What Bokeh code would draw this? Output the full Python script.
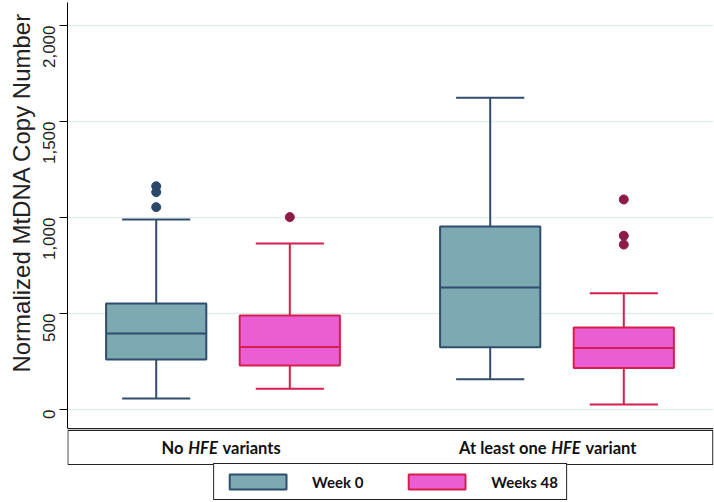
import math
from bokeh.plotting import figure
from bokeh.models import (ColumnDataSource, FixedTicker, NumeralTickFormatter, Range1d,
                          Span, BoxAnnotation, Title)
from bokeh.core.properties import value
from bokeh.embed import file_html
from bokeh.resources import INLINE

# ---------------- data ----------------
group_prefix = ["No", "At least one"]
group_gene = ["HFE", "HFE"]
group_suffix = ["variants", "variant"]
series_names = ["Week 0", "Weeks 48"]
y_title = "Normalized MtDNA Copy Number"

w0_low = [57, 158]
w0_q1 = [260, 325]
w0_med = [396, 635]
w0_q3 = [552, 953]
w0_high = [990, 1623]
w0_out_group = [1, 1, 1]
w0_out_val = [1054, 1132, 1163]

w48_low = [108, 26]
w48_q1 = [229, 217]
w48_med = [326, 321]
w48_q3 = [490, 427]
w48_high = [865, 606]
w48_out_group = [1, 2, 2, 2]
w48_out_val = [1002, 1094, 905, 859]

y_ticks = [0, 500, 1000, 1500, 2000]

# ---------------- styling / layout ----------------
W0_FILL, W0_LINE, W0_PT = "#7DA9B2", "#2F4D6C", "#2B4868"
W48_FILL, W48_LINE, W48_PT = "#E95ED2", "#D61F4C", "#8C1B47"

X0, X1 = 0.5344, 2.4686
Y0, Y1 = -484, 2130
AXIS_Y = -99          # bottom of the plotting region
CAT_TOP, CAT_BOT = -109, -286
CAT_MID = -198

pos = [i + 1 for i in range(len(group_prefix))]
OFF = 0.2
BOX_W = 0.3
CAP_W = 0.204

p = figure(width=714, height=502, x_range=Range1d(X0, X1), y_range=Range1d(Y0, Y1),
           output_backend="svg", toolbar_location=None,
           min_border_left=67, min_border_right=1, min_border_top=0, min_border_bottom=0)
p.outline_line_color = None
p.background_fill_color = "white"
p.border_fill_color = "white"
p.xaxis.visible = False
p.xgrid.visible = False
p.ygrid.grid_line_color = "#E3EDED"
p.ygrid.grid_line_width = 1.5
p.ygrid.ticker = FixedTicker(ticks=y_ticks)

yax = p.yaxis[0]
yax.bounds = (AXIS_Y, 2120)
yax.ticker = FixedTicker(ticks=y_ticks)
yax.formatter = NumeralTickFormatter(format="0,0")
yax.minor_tick_line_color = None
yax.major_tick_out = 8
yax.major_tick_in = 0
yax.major_label_orientation = math.pi / 2
yax.major_label_standoff = 10
yax.major_label_text_font = "Liberation Sans"
yax.major_label_text_font_size = "17px"
yax.major_label_text_color = "#222222"
yax.axis_line_color = "black"

p.add_layout(Title(text=y_title, align="right", offset=12, standoff=0,
                   text_font="Liberation Sans", text_font_style="normal",
                   text_font_size="24px", text_color="#222222"), "left")

# bottom line of the plotting region
p.add_layout(Span(location=AXIS_Y, dimension="width", line_color="#222222", line_width=1.2))


def draw_box(offset, low, q1, med, q3, high, out_group, out_val, fill, line, pt, name):
    x = [g + offset for g in pos]
    src = ColumnDataSource(dict(
        x=x, low=low, q1=q1, med=med, q3=q3, high=high,
        bl=[v - BOX_W / 2 for v in x], br=[v + BOX_W / 2 for v in x],
        cl=[v - CAP_W / 2 for v in x], cr=[v + CAP_W / 2 for v in x]))
    p.segment(x0="x", y0="q3", x1="x", y1="high", source=src, line_color=line, line_width=2)
    p.segment(x0="x", y0="q1", x1="x", y1="low", source=src, line_color=line, line_width=2)
    p.segment(x0="cl", y0="high", x1="cr", y1="high", source=src, line_color=line, line_width=2)
    p.segment(x0="cl", y0="low", x1="cr", y1="low", source=src, line_color=line, line_width=2)
    p.vbar(x="x", width=BOX_W, bottom="q1", top="q3", source=src,
           fill_color=fill, line_color=line, line_width=2, legend_label=name)
    p.segment(x0="bl", y0="med", x1="br", y1="med", source=src, line_color=line, line_width=2)
    p.scatter(x=[pos[g - 1] + offset for g in out_group], y=out_val, size=9,
              fill_color=pt, line_color=pt)


draw_box(-OFF, w0_low, w0_q1, w0_med, w0_q3, w0_high, w0_out_group, w0_out_val,
         W0_FILL, W0_LINE, W0_PT, series_names[0])
draw_box(OFF, w48_low, w48_q1, w48_med, w48_q3, w48_high, w48_out_group, w48_out_val,
         W48_FILL, W48_LINE, W48_PT, series_names[1])

# ---------------- category box ----------------
p.add_layout(BoxAnnotation(left=X0 + 0.001, right=X1 - 0.002, top=CAT_TOP, bottom=CAT_BOT,
                           fill_alpha=0.0,
                           line_color="#222222", line_width=1.2, line_alpha=1.0))

gene_off = [-20, 9]
half = 15.5
gap = 4
cat_src = ColumnDataSource(dict(
    x=pos, y=[CAT_MID] * len(pos), pre=group_prefix, gene=group_gene, suf=group_suffix,
    go=gene_off, po=[g - half - gap for g in gene_off], so=[g + half + gap for g in gene_off]))
common = dict(source=cat_src, text_font=value("Lato"), text_font_size="16.5px",
              text_color="#111111", text_baseline="middle")
p.text(x="x", y="y", text="pre", x_offset="po", text_align="right", text_font_style="bold", **common)
p.text(x="x", y="y", text="gene", x_offset="go", text_align="center", text_font_style="bold italic", **common)
p.text(x="x", y="y", text="suf", x_offset="so", text_align="left", text_font_style="bold", **common)

# ---------------- legend ----------------
leg = p.legend[0]
leg.orientation = "horizontal"
leg.location = "bottom_center"
leg.margin = 2
leg.padding = 8
leg.spacing = 38
leg.label_standoff = 19
leg.glyph_width = 71
leg.glyph_height = 19
leg.label_height = 19
leg.label_text_font = "Lato"
leg.label_text_font_style = "bold"
leg.label_text_font_size = "15px"
leg.label_text_color = "#111111"
leg.border_line_color = "#222222"
leg.border_line_width = 1.2
leg.border_line_alpha = 1.0
leg.background_fill_color = "white"
leg.background_fill_alpha = 1.0

open("out.html", "w").write(file_html(p, INLINE))
